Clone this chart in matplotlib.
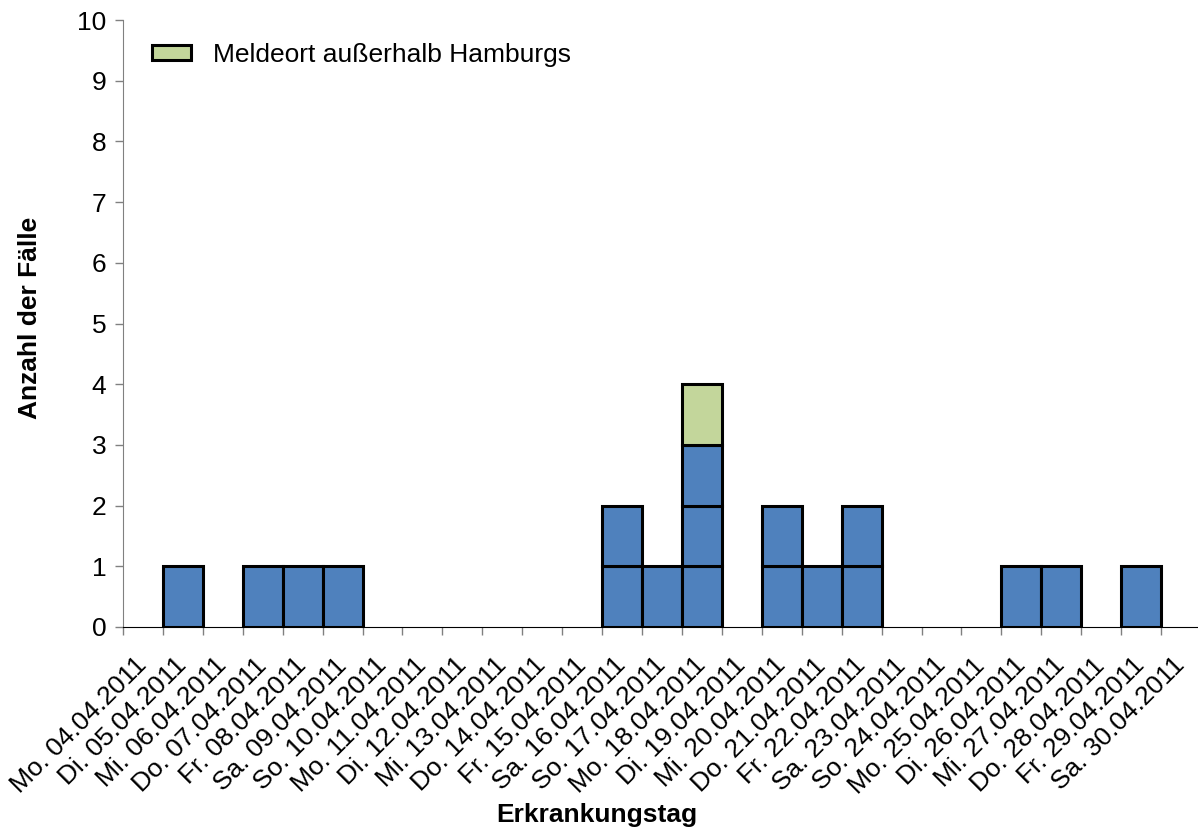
import matplotlib
matplotlib.use("Agg")
import matplotlib.pyplot as plt
from matplotlib.patches import Patch
import numpy as np

plt.rcParams['font.family'] = ['Liberation Sans', 'DejaVu Sans']

days = ["Mo. 04.04.2011", "Di. 05.04.2011", "Mi. 06.04.2011", "Do. 07.04.2011",
        "Fr. 08.04.2011", "Sa. 09.04.2011", "So. 10.04.2011", "Mo. 11.04.2011",
        "Di. 12.04.2011", "Mi. 13.04.2011", "Do. 14.04.2011", "Fr. 15.04.2011",
        "Sa. 16.04.2011", "So. 17.04.2011", "Mo. 18.04.2011", "Di. 19.04.2011",
        "Mi. 20.04.2011", "Do. 21.04.2011", "Fr. 22.04.2011", "Sa. 23.04.2011",
        "So. 24.04.2011", "Mo. 25.04.2011", "Di. 26.04.2011", "Mi. 27.04.2011",
        "Do. 28.04.2011", "Fr. 29.04.2011", "Sa. 30.04.2011"]
hamburg = [0, 1, 0, 1, 1, 1, 0, 0, 0, 0, 0, 0, 2, 1, 3, 0, 2, 1, 2, 0, 0, 0, 1, 1, 0, 1, 0]
outside = [0, 0, 0, 0, 0, 0, 0, 0, 0, 0, 0, 0, 0, 0, 1, 0, 0, 0, 0, 0, 0, 0, 0, 0, 0, 0, 0]

blue = "#4F81BD"
green = "#C3D69B"
FS = 19

fig = plt.figure(figsize=(11.98, 8.34), dpi=100)
ax = fig.add_axes([123/1198, 1-627/834, (1201-123)/1198, (627-20)/834])

x = np.arange(len(days))
for i in x:
    for k in range(hamburg[i]):
        ax.bar(i, 1, bottom=k, width=1.0, color=blue, edgecolor='black', linewidth=2.2, zorder=3)
    for k in range(outside[i]):
        ax.bar(i, 1, bottom=hamburg[i] + k, width=1.0, color=green, edgecolor='black', linewidth=2.2, zorder=3)

ax.set_xlim(-0.5, len(days) - 0.5)
ax.set_ylim(0, 10)
ax.set_yticks(range(0, 11))
ax.tick_params(axis='y', labelsize=FS, length=6, width=1, color='#808080', direction='out', pad=6)

ax.set_xticks(np.arange(-0.5, len(days), 1.0))
ax.set_xticklabels([])
ax.tick_params(axis='x', which='major', length=6, width=1, color='#808080', direction='out')
ax.set_xticks(x, minor=True)
ax.set_xticklabels(days, minor=True, rotation=45, ha='right', va='center', rotation_mode='anchor', fontsize=FS)
ax.tick_params(axis='x', which='minor', length=0, pad=25)

for s in ['top', 'right']:
    ax.spines[s].set_visible(False)
ax.spines['left'].set_color('#808080')
ax.spines['bottom'].set_color('black')
ax.spines['bottom'].set_zorder(4)

fig.text(30/1198, 1-318/834, "Anzahl der Fälle", fontsize=FS, fontweight='bold', rotation=90, ha='center', va='center')
fig.text(597/1198, 1-815/834, "Erkrankungstag", fontsize=FS, fontweight='bold', ha='center', va='center')

leg = ax.legend(handles=[Patch(facecolor=green, edgecolor='black', linewidth=2.2, label="Meldeort außerhalb Hamburgs")],
                loc='upper left', bbox_to_anchor=(0.017, 0.979), borderaxespad=0, frameon=False, fontsize=FS,
                handlelength=1.5, handleheight=0.5, handletextpad=0.8)

fig.savefig("out.png", dpi=100)
